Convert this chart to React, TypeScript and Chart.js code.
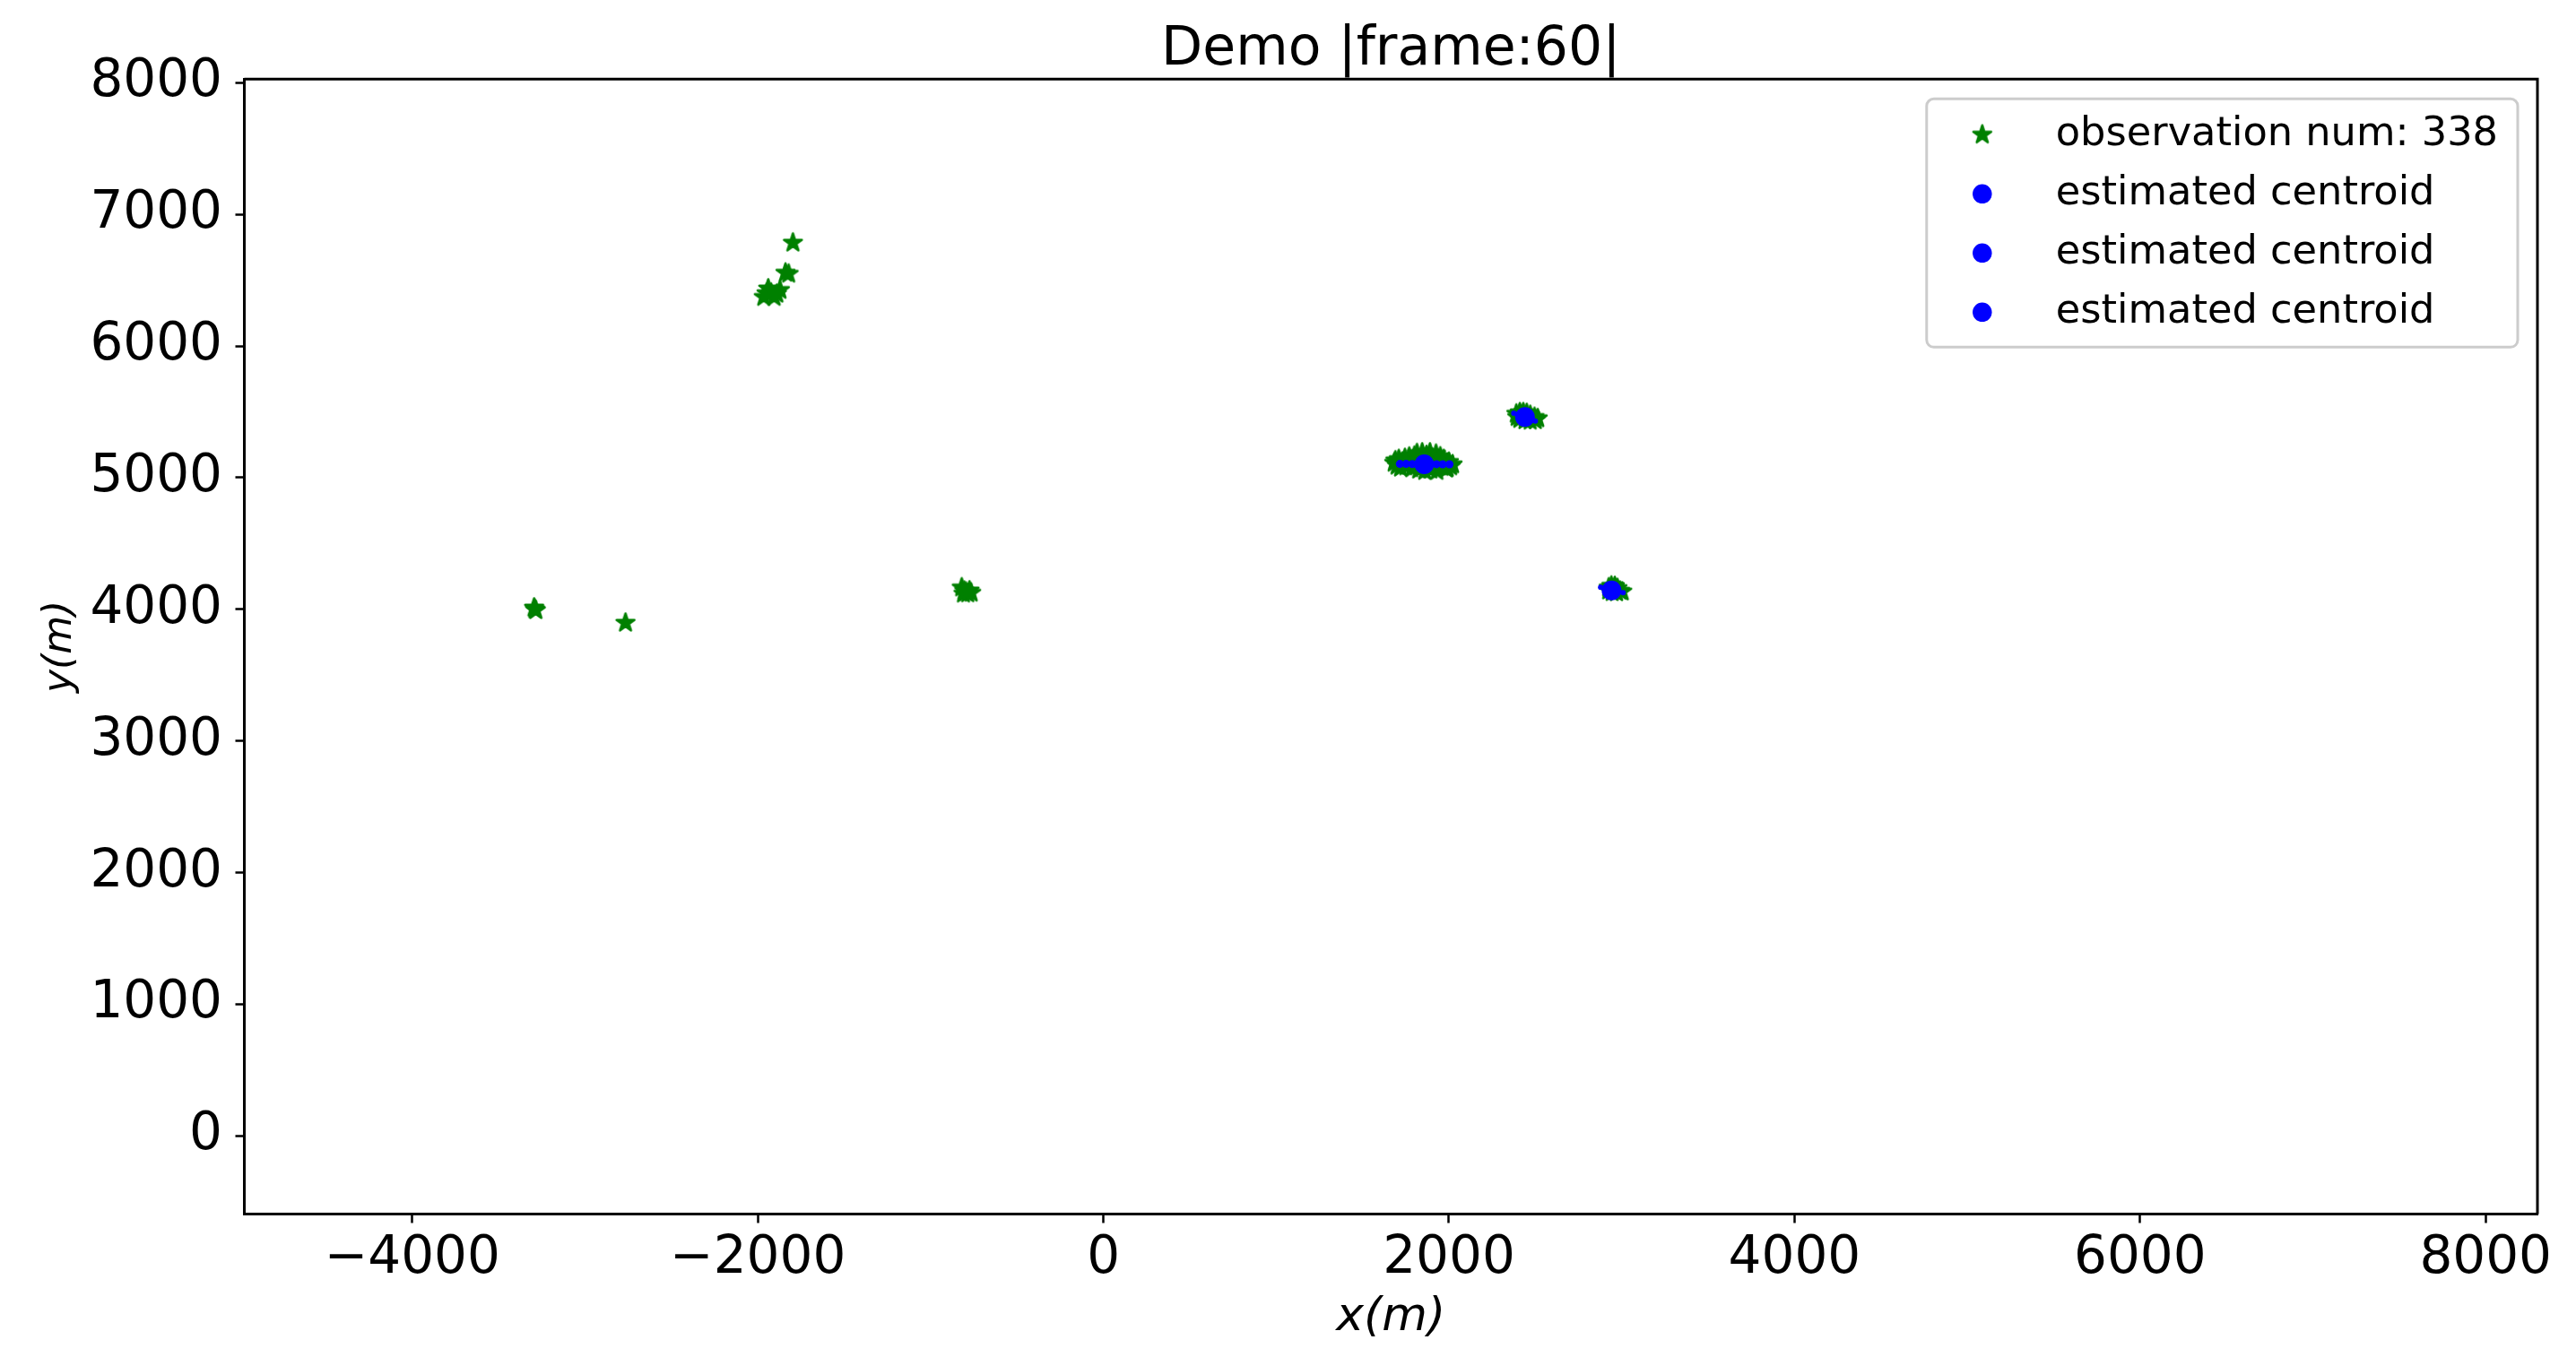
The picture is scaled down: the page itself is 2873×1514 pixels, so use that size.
import React, { useEffect, useRef } from "react";
import { Chart, registerables } from "chart.js";

Chart.register(...registerables);

// ---------- text ----------
const TITLE = "Demo |frame:60|";
const X_LABEL = "x(m)";
const Y_LABEL = "y(m)";
const OBS_LABEL = "observation num: 338";
const CENTROID_LABEL = "estimated centroid";

// ---------- axes ----------
const xTicks = [-4000, -2000, 0, 2000, 4000, 6000, 8000];
const yTicks = [0, 1000, 2000, 3000, 4000, 5000, 6000, 7000, 8000];
const xLimits = [-4972, 8300];
const yLimits = [-594, 8027];

// ---------- observations (green stars), grouped by cluster ----------
const obsClusterA: [number, number][] = [
  [-1797, 6784],
  [-1840, 6556], [-1822, 6548],
  [-1966, 6372], [-1923, 6404], [-1872, 6425], [-1906, 6372],
  [-1940, 6436], [-1950, 6400], [-1890, 6396],
];
const obsClusterB: [number, number][] = [
  [-3295, 4012], [-3285, 3992], [-3290, 4000],
];
const obsClusterC: [number, number][] = [[-2766, 3897]];
const obsClusterD: [number, number][] = [
  [-820, 4165], [-805, 4140], [-785, 4120], [-765, 4125],
  [-810, 4118], [-795, 4132], [-775, 4142],
];
const obsClusterE: [number, number][] = [
  [1683, 5112], [1690, 5130], [1700, 5090], [1710, 5140], [1720, 5075],
  [1730, 5120], [1745, 5148], [1750, 5085], [1765, 5105], [1770, 5158],
  [1785, 5070], [1790, 5130], [1800, 5165], [1810, 5090], [1815, 5185],
  [1825, 5060], [1830, 5140], [1845, 5190], [1850, 5100], [1860, 5050],
  [1870, 5170], [1880, 5120], [1890, 5190], [1895, 5060], [1905, 5150],
  [1915, 5085], [1925, 5180], [1930, 5050], [1940, 5120], [1950, 5160],
  [1960, 5080], [1970, 5140], [1985, 5068], [1990, 5110], [2000, 5118],
  [2010, 5085], [2021, 5100], [1990, 5072],
];
const obsClusterF: [number, number][] = [
  [2390, 5485], [2410, 5495], [2430, 5495], [2450, 5490], [2470, 5475],
  [2495, 5460], [2514, 5450], [2500, 5435], [2470, 5432], [2440, 5435],
  [2410, 5445], [2395, 5460], [2440, 5460], [2460, 5450],
];
const obsClusterG: [number, number][] = [
  [2925, 4165], [2940, 4178], [2960, 4175], [2975, 4160], [2990, 4140],
  [3003, 4134], [2970, 4128], [2945, 4130], [2925, 4142], [2950, 4150],
];

// ---------- estimated centroids (blue), first point is the centroid ----------
const centroidA: [number, number][] = [
  [1857, 5102],
  [1716, 5104], [1752, 5104], [1788, 5103], [1822, 5103],
  [1892, 5102], [1928, 5102], [1964, 5101], [2003, 5101],
];
const centroidB: [number, number][] = [
  [2440, 5460],
  [2375, 5489], [2395, 5480], [2485, 5438], [2500, 5430],
];
const centroidC: [number, number][] = [
  [2941, 4143],
  [2878, 4167], [2898, 4160], [2985, 4132], [3008, 4126],
];

const GREEN = "#008000";
const BLUE = "#0000ff";
const FONT = "'DejaVu Sans', 'Liberation Sans', sans-serif";

const toXY = (arr: [number, number][]) => arr.map(([x, y]) => ({ x, y }));
const fmt = (v: number) => (v < 0 ? "\u2212" + Math.abs(v) : String(v));

function makeStar(R: number, edge: number, color: string): HTMLCanvasElement {
  const size = Math.ceil(2 * R + 2 * edge + 4);
  const c = document.createElement("canvas");
  c.width = size;
  c.height = size;
  const g = c.getContext("2d")!;
  g.translate(size / 2, size / 2);
  g.beginPath();
  for (let i = 0; i < 10; i++) {
    const r = i % 2 === 0 ? R : R * 0.381966;
    const a = -Math.PI / 2 + (i * Math.PI) / 5;
    const px = r * Math.cos(a);
    const py = r * Math.sin(a);
    if (i === 0) g.moveTo(px, py);
    else g.lineTo(px, py);
  }
  g.closePath();
  g.fillStyle = color;
  g.fill();
  g.lineWidth = edge;
  g.lineJoin = "round";
  g.strokeStyle = color;
  g.stroke();
  return c;
}

export default function App() {
  const ref = useRef<HTMLCanvasElement | null>(null);

  useEffect(() => {
    document.body.style.margin = "0";
    const canvas = ref.current;
    if (!canvas) return;
    const star = makeStar(10.5, 2.5, GREEN);

    const framePlugin = {
      id: "frameTitleLegend",
      afterDraw(chart: any) {
        const { ctx, chartArea } = chart;
        ctx.save();
        // top and right spines
        ctx.strokeStyle = "#000";
        ctx.lineWidth = 3;
        ctx.beginPath();
        ctx.moveTo(chartArea.left, chartArea.top);
        ctx.lineTo(chartArea.right, chartArea.top);
        ctx.lineTo(chartArea.right, chartArea.bottom);
        ctx.stroke();

        // title centred over the axes
        ctx.font = `normal 60px ${FONT}`;
        ctx.fillStyle = "#000";
        ctx.textAlign = "center";
        ctx.textBaseline = "alphabetic";
        ctx.fillText(TITLE, (chartArea.left + chartArea.right) / 2, chartArea.top - 16.3);

        // legend
        const datasets = chart.data.datasets;
        ctx.font = `normal 44.7px ${FONT}`;
        let maxW = 0;
        datasets.forEach((d: any) => {
          maxW = Math.max(maxW, ctx.measureText(d.label).width);
        });
        const boxRight = chartArea.right - 22;
        const boxTop = chartArea.top + 22;
        const boxLeft = boxRight - 22 - maxW - 82 - 62;
        const rowGap = 66;
        const firstRow = boxTop + 40;
        const boxBottom = firstRow + rowGap * (datasets.length - 1) + 39;
        const rad = 8;
        ctx.beginPath();
        ctx.moveTo(boxLeft + rad, boxTop);
        ctx.lineTo(boxRight - rad, boxTop);
        ctx.arcTo(boxRight, boxTop, boxRight, boxTop + rad, rad);
        ctx.lineTo(boxRight, boxBottom - rad);
        ctx.arcTo(boxRight, boxBottom, boxRight - rad, boxBottom, rad);
        ctx.lineTo(boxLeft + rad, boxBottom);
        ctx.arcTo(boxLeft, boxBottom, boxLeft, boxBottom - rad, rad);
        ctx.lineTo(boxLeft, boxTop + rad);
        ctx.arcTo(boxLeft, boxTop, boxLeft + rad, boxTop, rad);
        ctx.closePath();
        ctx.fillStyle = "rgba(255,255,255,0.8)";
        ctx.fill();
        ctx.strokeStyle = "#cccccc";
        ctx.lineWidth = 3;
        ctx.stroke();

        datasets.forEach((d: any, i: number) => {
          const cy = firstRow + i * rowGap;
          const mx = boxLeft + 62;
          if (d.pointStyle instanceof HTMLCanvasElement) {
            const img = d.pointStyle as HTMLCanvasElement;
            ctx.drawImage(img, mx - img.width / 2, cy - img.height / 2);
          } else {
            ctx.beginPath();
            ctx.arc(mx, cy, 10.75, 0, Math.PI * 2);
            ctx.fillStyle = d.backgroundColor;
            ctx.fill();
          }
          ctx.fillStyle = "#000";
          ctx.textAlign = "left";
          ctx.textBaseline = "middle";
          ctx.fillText(d.label, mx + 82, cy);
        });
        ctx.restore();
      },
    };

    const obsAll = [
      ...obsClusterA, ...obsClusterB, ...obsClusterC, ...obsClusterD,
      ...obsClusterE, ...obsClusterF, ...obsClusterG,
    ];

    const centroidDataset = (pts: [number, number][], lensR: number) => ({
      label: CENTROID_LABEL,
      data: toXY(pts),
      pointStyle: "circle",
      pointRadius: (c: any) => (c.dataIndex === 0 ? 11 : lensR),
      backgroundColor: BLUE,
      borderColor: BLUE,
      borderWidth: 0,
      order: 0,
    });

    const chart = new Chart(canvas, {
      type: "scatter",
      data: {
        datasets: [
          {
            label: OBS_LABEL,
            data: toXY(obsAll),
            pointStyle: star as any,
            pointRadius: 11,
            backgroundColor: GREEN,
            borderColor: GREEN,
            order: 1,
          },
          centroidDataset(centroidA, 4.5),
          centroidDataset(centroidB, 3),
          centroidDataset(centroidC, 3),
        ] as any,
      },
      options: {
        animation: false,
        responsive: false,
        devicePixelRatio: 1,
        events: [],
        layout: { padding: { left: 0, right: 43, top: 88.3, bottom: 0 } },
        plugins: {
          legend: { display: false },
          tooltip: { enabled: false },
          title: { display: false },
        },
        scales: {
          x: {
            type: "linear",
            position: "bottom",
            min: xLimits[0],
            max: xLimits[1],
            afterBuildTicks: (s: any) => {
              s.ticks = xTicks.map((v) => ({ value: v }));
            },
            afterFit: (s: any) => {
              s.height = 159.5;
            },
            ticks: {
              color: "#000",
              font: { family: FONT, size: 58, lineHeight: 1 },
              padding: 11,
              maxRotation: 0,
              autoSkip: false,
              callback: (v: any) => fmt(Number(v)),
            },
            grid: {
              display: true,
              drawOnChartArea: false,
              drawTicks: true,
              tickLength: 10,
              tickWidth: 2.5,
              tickColor: "#000",
            },
            border: { display: true, color: "#000", width: 3 },
            title: {
              display: true,
              text: X_LABEL,
              color: "#000",
              font: { family: FONT, size: 52, style: "italic", lineHeight: 1 },
              padding: { top: 0, bottom: 18 },
            },
          },
          y: {
            type: "linear",
            position: "left",
            min: yLimits[0],
            max: yLimits[1],
            afterBuildTicks: (s: any) => {
              s.ticks = yTicks.map((v) => ({ value: v }));
            },
            afterFit: (s: any) => {
              s.width = 272.5;
            },
            ticks: {
              color: "#000",
              font: { family: FONT, size: 58, lineHeight: 1 },
              padding: 14.5,
              autoSkip: false,
              callback: (v: any) => fmt(Number(v)),
            },
            grid: {
              display: true,
              drawOnChartArea: false,
              drawTicks: true,
              tickLength: 10,
              tickWidth: 2.5,
              tickColor: "#000",
            },
            border: { display: true, color: "#000", width: 3 },
            title: {
              display: true,
              text: Y_LABEL,
              color: "#000",
              font: { family: FONT, size: 44, style: "italic", lineHeight: 1 },
              padding: { top: 45.5, bottom: 0 },
            },
          },
        },
      } as any,
      plugins: [framePlugin],
    });

    return () => chart.destroy();
  }, []);

  return (
    <canvas
      ref={ref}
      width={2873}
      height={1514}
      style={{ display: "block", width: 2873, height: 1514 }}
    />
  );
}
